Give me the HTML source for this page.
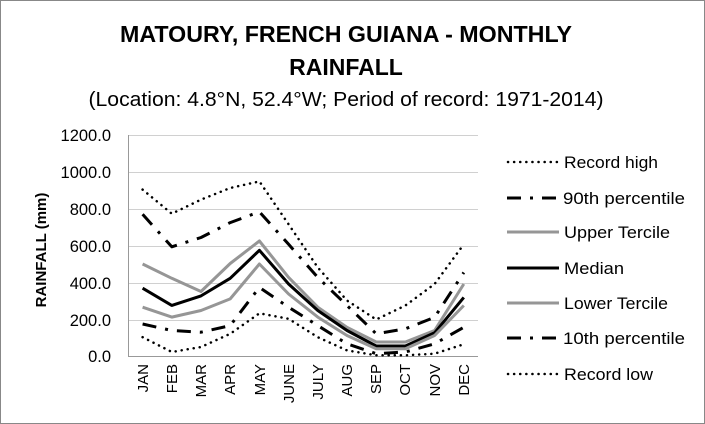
<!DOCTYPE html>
<html><head><meta charset="utf-8"><style>
html,body{margin:0;padding:0;background:#fff}
svg{display:block}
text{font-family:"Liberation Sans",sans-serif;fill:#000}
</style></head><body>
<svg width="705" height="424" viewBox="0 0 705 424" xmlns="http://www.w3.org/2000/svg">
<rect x="0.5" y="0.5" width="704" height="423" fill="#fff" stroke="#888"/>
<text x="346" y="42" text-anchor="middle" font-size="23" font-weight="bold" textLength="452" lengthAdjust="spacingAndGlyphs">MATOURY, FRENCH GUIANA - MONTHLY</text>
<text x="346" y="75" text-anchor="middle" font-size="23" font-weight="bold">RAINFALL</text>
<text x="346" y="106" text-anchor="middle" font-size="20" textLength="515" lengthAdjust="spacingAndGlyphs">(Location: 4.8°N, 52.4°W; Period of record: 1971-2014)</text>
<g stroke="#d0d0d0" stroke-width="1">
<line x1="128" x2="478" y1="135.5" y2="135.5"/>
<line x1="128" x2="478" y1="172.5" y2="172.5"/>
<line x1="128" x2="478" y1="209.5" y2="209.5"/>
<line x1="128" x2="478" y1="246.5" y2="246.5"/>
<line x1="128" x2="478" y1="283.5" y2="283.5"/>
<line x1="128" x2="478" y1="320.5" y2="320.5"/>
</g>
<line x1="128" x2="478" y1="356.5" y2="356.5" stroke="#999"/>
<line x1="128.5" x2="128.5" y1="135" y2="357" stroke="#999"/>
<g font-size="16.5" text-anchor="end">
<text x="111" y="141">1200.0</text>
<text x="111" y="178">1000.0</text>
<text x="111" y="215">800.0</text>
<text x="111" y="252">600.0</text>
<text x="111" y="289">400.0</text>
<text x="111" y="326">200.0</text>
<text x="111" y="362">0.0</text>
</g>
<text transform="translate(46,250) rotate(-90)" text-anchor="middle" font-size="15" font-weight="bold">RAINFALL (mm)</text>
<g font-size="15" text-anchor="end">
<text transform="translate(148,364) rotate(-90)">JAN</text>
<text transform="translate(177,364) rotate(-90)">FEB</text>
<text transform="translate(206,364) rotate(-90)">MAR</text>
<text transform="translate(235,364) rotate(-90)">APR</text>
<text transform="translate(265,364) rotate(-90)">MAY</text>
<text transform="translate(294,364) rotate(-90)">JUNE</text>
<text transform="translate(323,364) rotate(-90)">JULY</text>
<text transform="translate(352,364) rotate(-90)">AUG</text>
<text transform="translate(381,364) rotate(-90)">SEP</text>
<text transform="translate(410,364) rotate(-90)">OCT</text>
<text transform="translate(440,364) rotate(-90)">NOV</text>
<text transform="translate(469,364) rotate(-90)">DEC</text>
</g>
<g fill="none" stroke-linejoin="round">
<polyline stroke="#000" stroke-width="2.5" stroke-dasharray="0.1,6" stroke-linecap="round" points="142.6,189.6 171.8,213.7 201,199.6 230.2,188 259.4,181.4 288.6,224.3 317.8,267.5 347,300.5 376.2,319.5 405.4,305.5 434.6,284 463.8,244.3"/>
<polyline stroke="#000" stroke-width="3" stroke-dasharray="14,9,3,9" points="142.6,214.3 171.8,246.8 201,237.5 230.2,222.6 259.4,211.8 288.6,244.3 317.8,277.4 347,305.5 376.2,333.8 405.4,328.8 434.6,317.3 463.8,272.5"/>
<polyline stroke="#969696" stroke-width="3" points="142.6,264 171.8,278.3 201,291.5 230.2,263.5 259.4,241 288.6,277.4 317.8,307.2 347,327.3 376.2,342 405.4,342 434.6,330.5 463.8,284"/>
<polyline stroke="#000" stroke-width="3" points="142.6,288.2 171.8,305.4 201,295.9 230.2,278.3 259.4,250.3 288.6,284 317.8,310.5 347,330.5 376.2,346 405.4,346 434.6,332.8 463.8,297.4"/>
<polyline stroke="#969696" stroke-width="3" points="142.6,307.2 171.8,317.1 201,310.5 230.2,298.9 259.4,264 288.6,294 317.8,317.1 347,335.5 376.2,348.7 405.4,348.7 434.6,335.5 463.8,305.5"/>
<polyline stroke="#000" stroke-width="3" stroke-dasharray="14,9,3,9" points="142.6,324 171.8,330.5 201,332.2 230.2,325.6 259.4,287.4 288.6,307.2 317.8,325.6 347,343.8 376.2,353.7 405.4,352 434.6,343.8 463.8,327.3"/>
<polyline stroke="#000" stroke-width="2.5" stroke-dasharray="0.1,6" stroke-linecap="round" points="142.6,337.2 171.8,352 201,347 230.2,333.8 259.4,313.3 288.6,318.8 317.8,337.2 347,350.4 376.2,355.3 405.4,355.3 434.6,353.7 463.8,344.3"/>
</g>
<g fill="none">
<line x1="508" x2="559" y1="162" y2="162" stroke="#000" stroke-width="2.5" stroke-dasharray="0.1,6" stroke-linecap="round"/>
<line x1="507" x2="559" y1="198" y2="198" stroke="#000" stroke-width="3" stroke-dasharray="14,9,3,9"/>
<line x1="507" x2="559" y1="232" y2="232" stroke="#969696" stroke-width="3"/>
<line x1="507" x2="559" y1="268" y2="268" stroke="#000" stroke-width="3"/>
<line x1="507" x2="559" y1="303" y2="303" stroke="#969696" stroke-width="3"/>
<line x1="507" x2="559" y1="338" y2="338" stroke="#000" stroke-width="3" stroke-dasharray="14,9,3,9"/>
<line x1="508" x2="559" y1="374" y2="374" stroke="#000" stroke-width="2.5" stroke-dasharray="0.1,6" stroke-linecap="round"/>
</g>
<g font-size="17">
<text x="564" y="168" textLength="94" lengthAdjust="spacingAndGlyphs">Record high</text>
<text x="563" y="204" textLength="122" lengthAdjust="spacingAndGlyphs">90th percentile</text>
<text x="564" y="238" textLength="106" lengthAdjust="spacingAndGlyphs">Upper Tercile</text>
<text x="564" y="274" textLength="60" lengthAdjust="spacingAndGlyphs">Median</text>
<text x="564" y="309" textLength="104" lengthAdjust="spacingAndGlyphs">Lower Tercile</text>
<text x="563" y="344" textLength="122" lengthAdjust="spacingAndGlyphs">10th percentile</text>
<text x="564" y="380" textLength="89" lengthAdjust="spacingAndGlyphs">Record low</text>
</g>
</svg>
</body></html>
